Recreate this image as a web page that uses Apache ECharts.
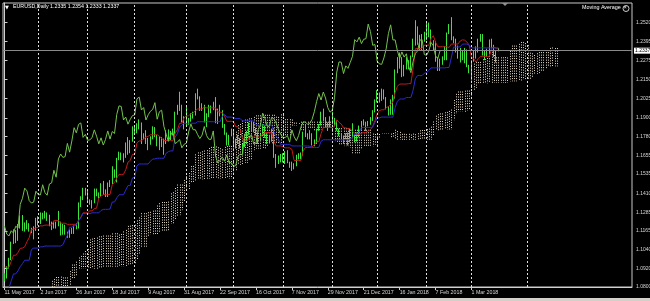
<!DOCTYPE html>
<html><head><meta charset="utf-8">
<script src="https://cdn.jsdelivr.net/npm/echarts@6/dist/echarts.min.js"></script>
<style>html,body{margin:0;padding:0;background:#000;}#c{width:650px;height:301px;}</style>
</head><body><div id="c"></div><script>
// ---- data (EURUSD Daily) ----
const symbolName = 'EURUSD,Daily';
// bars before the first visible bar (23 Jan 2017 .. 10 May 2017), used by the Ichimoku indicator
const preHigh = [1.0775,1.0775,1.0775,1.0760,1.0725,1.0710,1.0810,1.0830,1.0830,1.0830,
1.0785,1.0750,1.0720,1.0710,1.0675,1.0650,1.0620,1.0610,1.0680,1.0675,
1.0635,1.0610,1.0575,1.0600,1.0620,1.0630,1.0620,1.0580,1.0545,1.0630,
1.0610,1.0590,1.0575,1.0615,1.0700,1.0715,1.0660,1.0740,1.0760,1.0780,
1.0765,1.0820,1.0825,1.0820,1.0820,1.0905,1.0875,1.0815,1.0770,1.0690,
1.0690,1.0685,1.0700,1.0690,1.0665,1.0610,1.0640,1.0650,1.0680,1.0625,
1.0655,1.0735,1.0750,1.0780,1.0750,1.0935,1.0950,1.0940,1.0935,1.0950,
1.0920,1.0950,1.0935,1.0985,1.0995,1.1020,1.0925,1.0890];
const preLow = [1.0700,1.0705,1.0710,1.0670,1.0665,1.0620,1.0680,1.0740,1.0740,1.0710,
1.0710,1.0660,1.0660,1.0650,1.0605,1.0590,1.0560,1.0520,1.0600,1.0600,
1.0590,1.0520,1.0495,1.0545,1.0550,1.0560,1.0565,1.0495,1.0495,1.0500,
1.0570,1.0555,1.0525,1.0535,1.0580,1.0650,1.0600,1.0605,1.0710,1.0730,
1.0720,1.0730,1.0770,1.0760,1.0770,1.0790,1.0800,1.0740,1.0670,1.0630,
1.0640,1.0640,1.0645,1.0620,1.0580,1.0570,1.0585,1.0595,1.0595,1.0600,
1.0600,1.0635,1.0695,1.0700,1.0680,1.0820,1.0855,1.0890,1.0850,1.0865,
1.0880,1.0885,1.0875,1.0875,1.0945,1.0915,1.0870,1.0860];
// visible bars 11 May 2017 .. 19 Mar 2018
const openP = [1.0870,1.0863,1.0932,1.0981,1.1085,1.1158,1.1101,1.1206,1.1244,1.1182,
1.1183,1.1210,1.1164,1.1164,1.1181,1.1244,1.1215,1.1281,1.1253,1.1278,
1.1262,1.1212,1.1196,1.1198,1.1213,1.1219,1.1149,1.1197,1.1144,1.1132,
1.1166,1.1151,1.1195,1.1183,1.1337,1.1377,1.1443,1.1425,1.1362,1.1346,
1.1352,1.1423,1.1401,1.1399,1.1465,1.1414,1.1397,1.1470,1.1477,1.1559,
1.1514,1.1633,1.1665,1.1643,1.1648,1.1734,1.1677,1.1750,1.1836,1.1802,
1.1858,1.1867,1.1773,1.1793,1.1754,1.1757,1.1771,1.1822,1.1781,1.1731,
1.1770,1.1723,1.1760,1.1815,1.1762,1.1811,1.1798,1.1922,1.1978,1.1974,
1.1886,1.1905,1.1859,1.1890,1.1915,1.1919,1.2024,1.2035,1.1951,1.1967,
1.1886,1.1920,1.1943,1.1955,1.1999,1.1891,1.1940,1.1950,1.1845,1.1794,
1.1747,1.1787,1.1812,1.1733,1.1742,1.1759,1.1705,1.1728,1.1735,1.1808,
1.1860,1.1823,1.1823,1.1792,1.1765,1.1788,1.1844,1.1785,1.1761,1.1760,
1.1815,1.1652,1.1606,1.1625,1.1646,1.1618,1.1659,1.1608,1.1609,1.1584,
1.1590,1.1650,1.1664,1.1661,1.1796,1.1794,1.1770,1.1791,1.1730,1.1735,
1.1824,1.1852,1.1931,1.1896,1.1845,1.1845,1.1904,1.1894,1.1866,1.1825,
1.1794,1.1771,1.1772,1.1785,1.1742,1.1822,1.1778,1.1751,1.1785,1.1839,
1.1873,1.1873,1.1858,1.1865,1.1890,1.1940,1.2005,1.2058,1.2016,1.2068,
1.2029,1.1967,1.1937,1.1950,1.2031,1.2198,1.2264,1.2262,1.2188,1.2238,
1.2222,1.2261,1.2300,1.2409,1.2394,1.2425,1.2383,1.2411,1.2415,1.2510,
1.2461,1.2372,1.2377,1.2268,1.2251,1.2248,1.2290,1.2349,1.2448,1.2505,
1.2407,1.2407,1.2337,1.2286,1.2329,1.2295,1.2317,1.2234,1.2194,1.2268,
1.2318,1.2336,1.2405,1.2409,1.2312,1.2307,1.2335,1.2390,1.2369,1.2303,
1.2335];
const highP = [1.0890,1.0935,1.0990,1.1095,1.1175,1.1170,1.1210,1.1265,1.1268,1.1220,
1.1235,1.1215,1.1185,1.1195,1.1250,1.1260,1.1285,1.1283,1.1295,1.1285,
1.1270,1.1225,1.1230,1.1225,1.1295,1.1225,1.1210,1.1205,1.1160,1.1175,
1.1185,1.1200,1.1215,1.1350,1.1390,1.1445,1.1445,1.1425,1.1370,1.1365,
1.1440,1.1440,1.1415,1.1475,1.1490,1.1435,1.1480,1.1495,1.1585,1.1565,
1.1640,1.1680,1.1675,1.1670,1.1740,1.1775,1.1755,1.1845,1.1845,1.1865,
1.1890,1.1870,1.1800,1.1820,1.1770,1.1780,1.1845,1.1840,1.1790,1.1780,
1.1775,1.1765,1.1820,1.1825,1.1815,1.1830,1.1940,1.1985,1.2070,1.1985,
1.1910,1.1980,1.1900,1.1930,1.1940,1.2060,1.2090,1.2040,1.1995,1.1985,
1.1930,1.1985,1.1980,1.2005,1.2035,1.1960,1.1985,1.1950,1.1860,1.1805,
1.1790,1.1830,1.1815,1.1765,1.1790,1.1770,1.1730,1.1765,1.1815,1.1870,
1.1880,1.1875,1.1835,1.1800,1.1795,1.1860,1.1850,1.1800,1.1785,1.1830,
1.1835,1.1665,1.1655,1.1665,1.1670,1.1685,1.1690,1.1615,1.1615,1.1605,
1.1660,1.1670,1.1675,1.1810,1.1860,1.1800,1.1820,1.1800,1.1760,1.1830,
1.1860,1.1940,1.1960,1.1905,1.1870,1.1910,1.1940,1.1900,1.1880,1.1830,
1.1800,1.1785,1.1800,1.1805,1.1830,1.1865,1.1790,1.1805,1.1850,1.1880,
1.1890,1.1875,1.1880,1.1905,1.1950,1.2020,1.2080,1.2065,1.2090,1.2085,
1.2035,1.1975,1.2020,1.2050,1.2215,1.2295,1.2325,1.2295,1.2245,1.2295,
1.2275,1.2305,1.2415,1.2535,1.2495,1.2440,1.2445,1.2460,1.2520,1.2520,
1.2475,1.2405,1.2400,1.2295,1.2285,1.2300,1.2365,1.2455,1.2510,1.2555,
1.2430,1.2415,1.2370,1.2355,1.2340,1.2355,1.2345,1.2245,1.2275,1.2335,
1.2365,1.2415,1.2445,1.2445,1.2335,1.2350,1.2410,1.2415,1.2375,1.2335,
1.2354];
const lowP = [1.0838,1.0855,1.0920,1.0975,1.1080,1.1085,1.1100,1.1180,1.1165,1.1160,
1.1175,1.1160,1.1150,1.1110,1.1165,1.1200,1.1210,1.1240,1.1245,1.1230,
1.1195,1.1170,1.1180,1.1180,1.1195,1.1135,1.1140,1.1140,1.1120,1.1120,
1.1145,1.1145,1.1175,1.1180,1.1320,1.1365,1.1395,1.1355,1.1335,1.1310,
1.1345,1.1390,1.1375,1.1390,1.1400,1.1385,1.1385,1.1450,1.1470,1.1510,
1.1480,1.1625,1.1625,1.1610,1.1640,1.1660,1.1670,1.1745,1.1790,1.1800,
1.1825,1.1730,1.1760,1.1730,1.1690,1.1725,1.1760,1.1775,1.1715,1.1690,
1.1710,1.1660,1.1730,1.1755,1.1755,1.1785,1.1790,1.1920,1.1945,1.1870,
1.1825,1.1850,1.1855,1.1875,1.1895,1.1915,1.2020,1.1945,1.1945,1.1870,
1.1840,1.1905,1.1930,1.1950,1.1865,1.1860,1.1910,1.1835,1.1790,1.1720,
1.1720,1.1780,1.1715,1.1700,1.1730,1.1700,1.1670,1.1710,1.1730,1.1790,
1.1815,1.1805,1.1785,1.1730,1.1755,1.1780,1.1770,1.1730,1.1735,1.1745,
1.1640,1.1575,1.1600,1.1610,1.1610,1.1600,1.1605,1.1575,1.1555,1.1565,
1.1585,1.1630,1.1630,1.1655,1.1775,1.1760,1.1760,1.1720,1.1715,1.1730,
1.1815,1.1850,1.1880,1.1835,1.1815,1.1835,1.1865,1.1845,1.1815,1.1780,
1.1760,1.1730,1.1760,1.1720,1.1740,1.1770,1.1740,1.1745,1.1775,1.1825,
1.1850,1.1815,1.1845,1.1855,1.1880,1.1935,1.2000,1.2000,1.2010,1.2020,
1.1955,1.1915,1.1920,1.1920,1.2025,1.2190,1.2220,1.2165,1.2170,1.2215,
1.2215,1.2210,1.2295,1.2370,1.2375,1.2335,1.2335,1.2395,1.2405,1.2425,
1.2365,1.2335,1.2265,1.2205,1.2205,1.2245,1.2275,1.2275,1.2445,1.2405,
1.2385,1.2325,1.2285,1.2260,1.2275,1.2255,1.2230,1.2190,1.2155,1.2265,
1.2285,1.2325,1.2395,1.2305,1.2275,1.2295,1.2320,1.2355,1.2295,1.2260,
1.2333];
const closeP = [1.0863,1.0932,1.0981,1.1085,1.1158,1.1101,1.1206,1.1244,1.1182,1.1183,
1.1210,1.1164,1.1164,1.1181,1.1244,1.1215,1.1281,1.1253,1.1278,1.1262,
1.1212,1.1196,1.1198,1.1213,1.1219,1.1149,1.1197,1.1144,1.1132,1.1166,
1.1151,1.1195,1.1183,1.1337,1.1377,1.1443,1.1425,1.1362,1.1346,1.1352,
1.1423,1.1401,1.1399,1.1465,1.1414,1.1397,1.1470,1.1477,1.1559,1.1514,
1.1633,1.1665,1.1643,1.1648,1.1734,1.1677,1.1750,1.1836,1.1802,1.1858,
1.1867,1.1773,1.1793,1.1754,1.1757,1.1771,1.1822,1.1781,1.1731,1.1770,
1.1723,1.1760,1.1815,1.1762,1.1811,1.1798,1.1922,1.1978,1.1974,1.1886,
1.1905,1.1859,1.1890,1.1915,1.1919,1.2024,1.2035,1.1951,1.1967,1.1886,
1.1920,1.1943,1.1955,1.1999,1.1891,1.1940,1.1950,1.1845,1.1794,1.1747,
1.1787,1.1812,1.1733,1.1742,1.1759,1.1705,1.1728,1.1735,1.1808,1.1860,
1.1823,1.1823,1.1792,1.1765,1.1788,1.1844,1.1785,1.1761,1.1760,1.1815,
1.1652,1.1606,1.1625,1.1646,1.1618,1.1659,1.1608,1.1609,1.1584,1.1590,
1.1650,1.1664,1.1661,1.1796,1.1794,1.1770,1.1791,1.1730,1.1735,1.1824,
1.1852,1.1931,1.1896,1.1845,1.1845,1.1904,1.1894,1.1866,1.1825,1.1794,
1.1771,1.1772,1.1785,1.1742,1.1822,1.1778,1.1751,1.1785,1.1839,1.1873,
1.1873,1.1858,1.1865,1.1890,1.1940,1.2005,1.2058,1.2016,1.2068,1.2029,
1.1967,1.1937,1.1950,1.2031,1.2198,1.2264,1.2262,1.2188,1.2238,1.2222,
1.2261,1.2300,1.2409,1.2394,1.2425,1.2383,1.2411,1.2415,1.2510,1.2461,
1.2372,1.2377,1.2268,1.2251,1.2248,1.2290,1.2349,1.2448,1.2505,1.2407,
1.2407,1.2337,1.2286,1.2329,1.2295,1.2317,1.2234,1.2194,1.2268,1.2318,
1.2336,1.2405,1.2409,1.2312,1.2307,1.2335,1.2390,1.2369,1.2303,1.2285,
1.2337];
const dateLabels = ['11 May 2017','2 Jun 2017','26 Jun 2017','18 Jul 2017','9 Aug 2017','31 Aug 2017','22 Sep 2017','16 Oct 2017','7 Nov 2017','29 Nov 2017','21 Dec 2017','16 Jan 2018','7 Feb 2018','1 Mar 2018'];
const labelIdx = [0,16,32,48,64,80,96,112,128,144,160,176,192,208];
const separatorIdx = [15,37,58,81,102,124,146,166,188,208,233];
const yTicks = [1.2520,1.2395,1.2275,1.2150,1.2025,1.1900,1.1780,1.1655,1.1535,1.1410,1.1285,1.1165,1.1040,1.0920,1.0800];
const tenkanLen = 9, kijunLen = 26, spanBLen = 52, shift = 26;

// ---- build series ----
const N = closeP.length, P = preHigh.length;
const allH = preHigh.concat(highP), allL = preLow.concat(lowP);
function mid(g, n) {
  let h = -Infinity, l = Infinity;
  for (let k = g - n + 1; k <= g; k++) { if (k < 0) continue; h = Math.max(h, allH[k]); l = Math.min(l, allL[k]); }
  return (h + l) / 2;
}
const candles = openP.map((o, i) => [i, o, closeP[i], lowP[i], highP[i]]);
const tenkan = [], kijun = [], chikou = [], cloud = [];
for (let i = 0; i < N; i++) {
  tenkan.push([i, mid(i + P, tenkanLen)]);
  kijun.push([i, mid(i + P, kijunLen)]);
  if (i + shift < N) chikou.push([i, closeP[i + shift]]);
}
for (let j = 0; j < N + shift; j++) {
  const g = j + P - shift;
  const a = (mid(g, tenkanLen) + mid(g, kijunLen)) / 2;
  const b = mid(g, spanBLen);
  cloud.push([j, a, b]);
}
const labelText = {}; labelIdx.forEach((v, k) => labelText[v] = dateLabels[k]);
const last = N - 1;
const header = symbolName + ' ' + [openP[last], highP[last], lowP[last], closeP[last]].map(v => v.toFixed(4)).join(' ');

const FF = 'Liberation Sans, Arial, sans-serif';
const chart = echarts.init(document.getElementById('c'), null, {renderer: 'canvas'});
chart.setOption({
  backgroundColor: '#000',
  animation: false,
  grid: {left: 3, right: 18, top: 3, bottom: 14, containLabel: false, outerBoundsMode: 'none',
    show: true, borderColor: '#c8c8c8', borderWidth: 1, backgroundColor: '#000'},
  xAxis: {
    type: 'value', min: -0.668, max: 279.5,
    axisLine: {show: true, onZero: false, lineStyle: {color: '#d0d0d0', width: 1}},
    axisTick: {show: true, customValues: labelIdx, length: 3, lineStyle: {color: '#d0d0d0'}},
    axisLabel: {customValues: labelIdx, formatter: v => labelText[v] || '', color: '#d8d8d8', fontSize: 5.3, fontFamily: FF, align: 'left', margin: 3},
    splitLine: {show: false}
  },
  yAxis: {
    type: 'value', position: 'right', min: 1.08, max: 1.2647,
    axisLine: {show: true, lineStyle: {color: '#d0d0d0', width: 1}},
    axisTick: {show: true, customValues: yTicks, length: 3, lineStyle: {color: '#d0d0d0'}},
    axisLabel: {customValues: yTicks, formatter: v => v.toFixed(4), color: '#d8d8d8', fontSize: 5, fontFamily: FF, margin: 4},
    splitLine: {show: false}
  },
  graphic: [
    {type: 'text', left: 5, top: 5, style: {text: '▼', fill: '#ffffff', fontSize: 5, fontFamily: 'DejaVu Sans'}},
    {type: 'text', left: 13, top: 4.5, style: {text: header, fill: '#ffffff', fontSize: 5.3, fontFamily: FF}},
    {type: 'text', left: 582, top: 5.5, style: {text: 'Moving Average', fill: '#ffffff', fontSize: 5.4, fontFamily: FF}},
    {type: 'circle', shape: {cx: 626, cy: 8.5, r: 3}, style: {fill: 'none', stroke: '#ffffff', lineWidth: 0.8}},
    {type: 'text', left: 623.7, top: 5.6, style: {text: '×', fill: '#ffffff', fontSize: 5, fontFamily: FF}},
    {type: 'polygon', shape: {points: [[502, 3], [508, 3], [505, 6]]}, style: {fill: '#909090'}},
    {type: 'rect', shape: {x: 0, y: 298, width: 650, height: 3}, style: {fill: '#d4d0c8'}}
  ],
  series: [
    {
      type: 'custom', name: 'Kumo', data: cloud, clip: true, z: 1,
      encode: {x: 0, y: [1, 2]},
      renderItem: function (params, api) {
        const p1 = api.coord([api.value(0), api.value(1)]);
        const p2 = api.coord([api.value(0), api.value(2)]);
        const x = Math.round(p1[0]) + 0.5;
        return {type: 'line', shape: {x1: x, y1: Math.min(p1[1], p2[1]), x2: x, y2: Math.max(p1[1], p2[1])},
          style: {stroke: '#e6dcc6', lineWidth: 1, lineDash: [1, 1.5]}};
      },
      markLine: {silent: true, symbol: 'none', precision: 4, label: {show: false},
        lineStyle: {color: '#e0e0e0', width: 1, type: [2, 2]},
        data: separatorIdx.map(v => ({xAxis: v}))}
    },
    {
      type: 'candlestick', name: 'EURUSD', data: candles, barWidth: 1.3, z: 2,
      encode: {x: 0, y: [1, 2, 3, 4]},
      itemStyle: {color: '#1d7d1d', color0: '#b8f5b0', borderColor: '#3ae63a', borderColor0: '#3ae63a', borderWidth: 1}
    },
    {type: 'line', name: 'Tenkan-sen', data: tenkan, showSymbol: false, symbol: 'none', z: 3, lineStyle: {color: '#c41a1a', width: 1}},
    {type: 'line', name: 'Kijun-sen', data: kijun, showSymbol: false, symbol: 'none', z: 3, lineStyle: {color: '#2b2bd0', width: 1}},
    {type: 'line', name: 'Chikou Span', data: chikou, showSymbol: false, symbol: 'none', z: 3, lineStyle: {color: '#72c24c', width: 1},
      markLine: {silent: true, symbol: 'none', precision: 4,
        lineStyle: {color: '#8a8a8a', width: 1, type: 'solid'},
        label: {show: true, position: 'end', distance: 2, formatter: () => closeP[last].toFixed(4), color: '#000', backgroundColor: '#ffffff', fontSize: 5, fontFamily: FF, padding: [1, 1, 0, 1]},
        data: [{yAxis: closeP[last]}]}
    }
  ]
});
</script></body></html>
